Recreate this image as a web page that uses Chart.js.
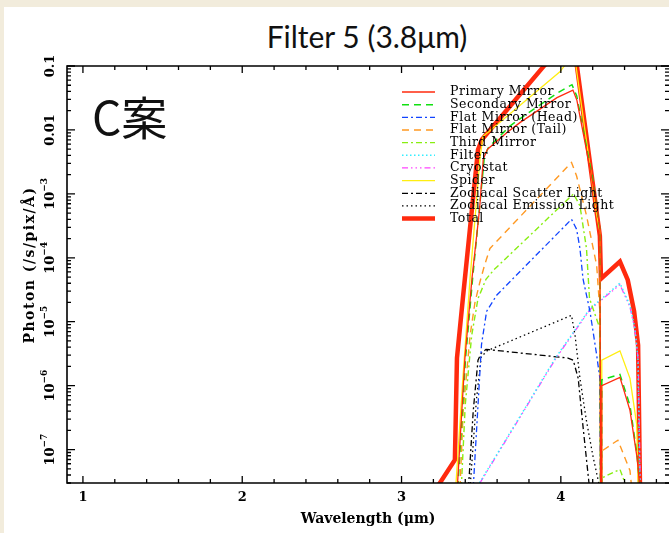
<!DOCTYPE html>
<html>
<head>
<meta charset="utf-8">
<title>Filter 5 (3.8μm)</title>
<script src="https://cdn.jsdelivr.net/npm/chart.js@4.4.1/dist/chart.umd.min.js"></script>
<style>
  html, body { margin: 0; padding: 0; }
  body { width: 669px; height: 533px; background: #f2ecdc; position: relative; overflow: hidden; }
  .sheet { position: absolute; left: 4px; top: 7px; right: 0; bottom: 0; background: #fff; }
  .slide-title { position: absolute; left: 0; top: 19px; width: 734px; text-align: center;
                 font: 30px Lato, "Open Sans", sans-serif; line-height: 34px; color: #111; }
  .plan { position: absolute; left: 92px; top: 90px; font: 46px "Noto Sans CJK JP", sans-serif;
          line-height: 50px; color: #111; }
  .chart-box { position: absolute; left: 0; top: 0; width: 669px; height: 533px; }
</style>
</head>
<body>
<div class="sheet"></div>
<div class="slide-title">Filter 5 (3.8μm)</div>
<div class="chart-box"><canvas id="filterChart"></canvas></div>
<div class="plan">C案</div>
<script>
// Filter 5 (3.8um) の各成分ごとの光子数

// 軸の目盛
const xTickValues = [1, 2, 3, 4];
const xTickLabels = ['1', '2', '3', '4'];
const yTickValues = [1e-7, 1e-6, 1e-5, 1e-4, 1e-3, 0.01, 0.1];
const yTickLabels = [['10', '−7'], ['10', '−6'], ['10', '−5'], ['10', '−4'], ['10', '−3'], ['0.01', ''], ['0.1', '']];

const seriesNames = ['Primary Mirror', 'Secondary Mirror', 'Flat Mirror (Head)', 'Flat Mirror (Tail)',
    'Third Mirror', 'Filter', 'Cryostat', 'Spider', 'Zodiacal Scatter Light', 'Zodiacal Emission Light', 'Total'];

// [波長 (um), photon (/s/pix/A)]
const primaryMirror = [
    [3.350, 2.5e-8], [3.398, 2.7e-6], [3.442, 4.7e-5], [3.490, 5.8e-4], [3.513, 3.5e-3],
    [3.540, 5.0e-3], [3.662, 9.1e-3], [3.743, 1.3e-2], [3.976, 3.2e-2], [4.076, 4.2e-2],
    [4.101, 2.9e-2], [4.200, 1.5e-3], [4.245, 3.0e-4], [4.250, 1e-8], [4.255, 1e-8],
    [4.257, 1.0e-6], [4.371, 1.35e-6], [4.434, 4.1e-7], [4.478, 7.6e-8], [4.497, 2.5e-8]
];
const secondaryMirror = [
    [3.353, 2.5e-8], [3.402, 2.7e-6], [3.446, 4.7e-5], [3.492, 7.0e-4], [3.520, 3.8e-3],
    [3.545, 5.3e-3], [3.680, 1.15e-2], [3.760, 1.6e-2], [3.980, 3.8e-2], [4.070, 5.1e-2],
    [4.100, 3.4e-2], [4.200, 1.7e-3], [4.245, 2.8e-4], [4.250, 1e-8], [4.255, 1e-8],
    [4.257, 1.23e-6], [4.371, 1.5e-6], [4.434, 4.9e-7], [4.478, 8.4e-8], [4.497, 2.5e-8]
];
const flatMirrorHead = [
    [3.450, 2.5e-8], [3.475, 3.0e-7], [3.502, 4.4e-6], [3.534, 1.45e-5], [3.597, 2.6e-5],
    [4.067, 4.0e-4], [4.099, 2.8e-4], [4.120, 1.4e-4], [4.139, 4.7e-5], [4.183, 1.45e-5],
    [4.225, 3.0e-6], [4.245, 1.3e-6], [4.250, 1e-8]
];
const flatMirrorTail = [
    [3.367, 2.5e-8], [3.387, 4.0e-7], [3.430, 6.0e-6], [3.461, 2.0e-5], [3.490, 4.0e-5],
    [3.520, 7.5e-5], [3.555, 1.4e-4], [4.067, 3.1e-3], [4.099, 1.9e-3], [4.161, 4.6e-4],
    [4.225, 7.6e-5], [4.245, 1.45e-5], [4.250, 1e-8], [4.255, 1e-8], [4.257, 9.5e-8],
    [4.358, 1.4e-7], [4.434, 4.7e-8], [4.445, 2.5e-8]
];
const thirdMirror = [
    [3.375, 2.5e-8], [3.400, 5.0e-7], [3.440, 6.0e-6], [3.480, 2.3e-5], [3.530, 4.6e-5],
    [3.580, 6.5e-5], [4.080, 1.0e-3], [4.120, 6.5e-4], [4.161, 1.4e-4], [4.180, 2.3e-5],
    [4.245, 7.9e-6], [4.250, 1e-8], [4.255, 1e-8], [4.257, 3.6e-8], [4.371, 4.9e-8],
    [4.415, 2.5e-8]
];
const filterLight = [
    [3.489, 3.0e-8], [3.750, 3.5e-7], [3.970, 2.8e-6], [4.183, 1.6e-5], [4.371, 4.0e-5],
    [4.434, 1.8e-5], [4.465, 7.9e-6], [4.484, 2.7e-6], [4.497, 2.5e-8]
];
const cryostat = [
    [3.492, 3.0e-8], [3.750, 3.4e-7], [3.970, 2.7e-6], [4.183, 1.55e-5], [4.371, 3.8e-5],
    [4.434, 1.7e-5], [4.465, 7.5e-6], [4.486, 2.5e-6], [4.499, 2.5e-8]
];
const spider = [
    [3.340, 2.5e-8], [3.385, 1.3e-6], [3.430, 4.7e-5], [3.492, 3.5e-3], [3.511, 7.9e-3],
    [3.994, 8.1e-2], [4.076, 0.15], [4.095, 0.10], [4.227, 4.5e-4], [4.245, 2.6e-4],
    [4.250, 1e-8], [4.255, 1e-8], [4.257, 2.5e-6], [4.371, 3.5e-6], [4.434, 1.3e-6],
    [4.476, 2.5e-7], [4.486, 2.5e-8]
];
const zodiacalScatter = [
    [3.420, 2.5e-8], [3.450, 4.0e-7], [3.480, 2.5e-6], [3.500, 3.2e-6], [3.530, 3.7e-6],
    [4.045, 2.7e-6], [4.078, 2.5e-6], [4.109, 1.3e-6], [4.140, 2.2e-7], [4.180, 2.5e-8]
];
const zodiacalEmission = [
    [3.430, 2.5e-8], [3.470, 6.0e-7], [3.500, 2.8e-6], [3.536, 3.5e-6], [4.067, 1.26e-5],
    [4.089, 6.2e-6], [4.120, 1.3e-6], [4.161, 2.8e-7], [4.203, 7.6e-8], [4.245, 2.5e-8]
];
const total = [
    [3.220, 2.5e-8], [3.335, 6.9e-8], [3.348, 2.7e-6], [3.385, 2.3e-5], [3.480, 4.9e-3],
    [3.505, 7.1e-3], [3.900, 0.104], [4.070, 0.20], [4.100, 0.104], [4.245, 2.2e-4],
    [4.252, 4.7e-5], [4.371, 8.7e-5], [4.420, 4.5e-5], [4.460, 1.45e-5], [4.485, 4.3e-6],
    [4.497, 2.5e-8]
];

const seriesData = [primaryMirror, secondaryMirror, flatMirrorHead, flatMirrorTail, thirdMirror,
    filterLight, cryostat, spider, zodiacalScatter, zodiacalEmission, total];

// 線のスタイル (IDL の linestyle に合わせる)
const seriesStyles = [
    { color: '#ff2a0e', width: 1.3, dash: [] },
    { color: '#11e011', width: 1.5, dash: [7, 5] },
    { color: '#1144ff', width: 1.3, dash: [6, 3, 2, 3] },
    { color: '#ff9922', width: 1.4, dash: [7, 5] },
    { color: '#88ee11', width: 1.4, dash: [6, 3, 2, 3] },
    { color: '#33eeff', width: 1.5, dash: [1.5, 2.5] },
    { color: '#ff44ff', width: 1.3, dash: [6, 3, 1.5, 3, 1.5, 3, 1.5, 3] },
    { color: '#ffee11', width: 1.3, dash: [] },
    { color: '#000000', width: 1.3, dash: [6, 3, 2, 3] },
    { color: '#000000', width: 1.3, dash: [1.5, 3] },
    { color: '#ff2a0e', width: 4.5, dash: [] }
];

const serifFont = '"DejaVu Serif", "Liberation Serif", serif';

// 軸枠・目盛・ラベル (IDL 風に内向きの目盛)
const idlFrame = {
    id: 'idlFrame',
    afterDatasetsDraw(chart) {
        const { ctx, chartArea: area } = chart;
        const xs = chart.scales.x, ys = chart.scales.y;
        ctx.save();
        ctx.strokeStyle = '#000';
        ctx.lineWidth = 1.6;
        ctx.beginPath();
        ctx.moveTo(area.right, area.top);
        ctx.lineTo(area.left, area.top);
        ctx.lineTo(area.left, area.bottom);
        ctx.lineTo(area.right, area.bottom);
        ctx.stroke();

        ctx.lineWidth = 1.3;
        ctx.beginPath();
        for (let k = 5; k / 5 <= xs.max + 1e-9; k++) {
            const px = xs.getPixelForValue(k / 5);
            const len = k % 5 === 0 ? 7 : 4;
            ctx.moveTo(px, area.bottom); ctx.lineTo(px, area.bottom - len);
            ctx.moveTo(px, area.top); ctx.lineTo(px, area.top + len);
        }
        for (let e = -8; e <= -1; e++) {
            for (let m = 1; m <= 9; m++) {
                const v = m * Math.pow(10, e);
                if (v < ys.min * 0.999 || v > ys.max * 1.001) continue;
                const py = ys.getPixelForValue(v);
                const len = m === 1 ? 8 : 4;
                ctx.moveTo(area.left, py); ctx.lineTo(area.left + len, py);
                ctx.moveTo(area.right, py); ctx.lineTo(area.right - len, py);
            }
        }
        ctx.stroke();

        ctx.fillStyle = '#000';
        ctx.textAlign = 'center';
        ctx.textBaseline = 'middle';
        ctx.font = 'bold 13px ' + serifFont;
        xTickValues.forEach((v, i) => {
            ctx.fillText(xTickLabels[i], xs.getPixelForValue(v), 498);
        });

        yTickValues.forEach((v, i) => {
            const [base, exp] = yTickLabels[i];
            const py = ys.getPixelForValue(v);
            ctx.save();
            ctx.translate(51, py);
            ctx.rotate(-Math.PI / 2);
            ctx.textAlign = 'left';
            ctx.font = 'bold 13px ' + serifFont;
            const w1 = ctx.measureText(base).width;
            ctx.font = 'bold 9px ' + serifFont;
            const w2 = exp ? ctx.measureText(exp).width : 0;
            const start = -(w1 + w2) / 2;
            ctx.font = 'bold 13px ' + serifFont;
            ctx.fillText(base, start, 0);
            if (exp) {
                ctx.font = 'bold 9px ' + serifFont;
                ctx.fillText(exp, start + w1, -6);
            }
            ctx.restore();
        });

        ctx.font = 'bold 14px ' + serifFont;
        ctx.fillText('Wavelength (μm)', (area.left + area.right) / 2, 519);
        ctx.save();
        ctx.translate(30, 265);
        ctx.rotate(-Math.PI / 2);
        ctx.letterSpacing = '1.5px';
        ctx.fillText('Photon (/s/pix/Å)', 0, 0);
        ctx.restore();
        ctx.restore();
    }
};

// 凡例 (プロット内右上)
const innerLegend = {
    id: 'innerLegend',
    afterDatasetsDraw(chart) {
        const ctx = chart.ctx;
        ctx.save();
        ctx.font = '12.5px ' + serifFont;
        ctx.letterSpacing = '0.5px';
        ctx.textBaseline = 'middle';
        ctx.textAlign = 'left';
        chart.data.datasets.forEach((ds, i) => {
            const y = 92 + i * 12.66;
            ctx.strokeStyle = ds.borderColor;
            ctx.lineWidth = ds.borderWidth;
            ctx.setLineDash(ds.borderDash);
            ctx.beginPath();
            ctx.moveTo(402, y);
            ctx.lineTo(435, y);
            ctx.stroke();
            ctx.setLineDash([]);
            ctx.fillStyle = '#000';
            ctx.fillText(ds.label, 450, y);
        });
        ctx.restore();
    }
};

const datasets = seriesData.map((points, i) => ({
    label: seriesNames[i],
    data: points.map(([x, y]) => ({ x, y })),
    borderColor: seriesStyles[i].color,
    borderWidth: seriesStyles[i].width,
    borderDash: seriesStyles[i].dash,
    pointRadius: 0,
    tension: 0,
    fill: false,
    clip: 0
}));

const ctx = document.getElementById('filterChart').getContext('2d');
new Chart(ctx, {
    type: 'line',
    data: { datasets },
    options: {
        responsive: true,
        maintainAspectRatio: false,
        animation: false,
        events: [],
        layout: { padding: { left: 67, top: 66, right: 0, bottom: 50 } },
        scales: {
            x: { type: 'linear', min: 0.9, max: 4.679, display: false },
            y: { type: 'logarithmic', min: 3.3e-8, max: 0.1, display: false }
        },
        plugins: {
            legend: { display: false },
            tooltip: { enabled: false }
        }
    },
    plugins: [idlFrame, innerLegend]
});
</script>
</body>
</html>
